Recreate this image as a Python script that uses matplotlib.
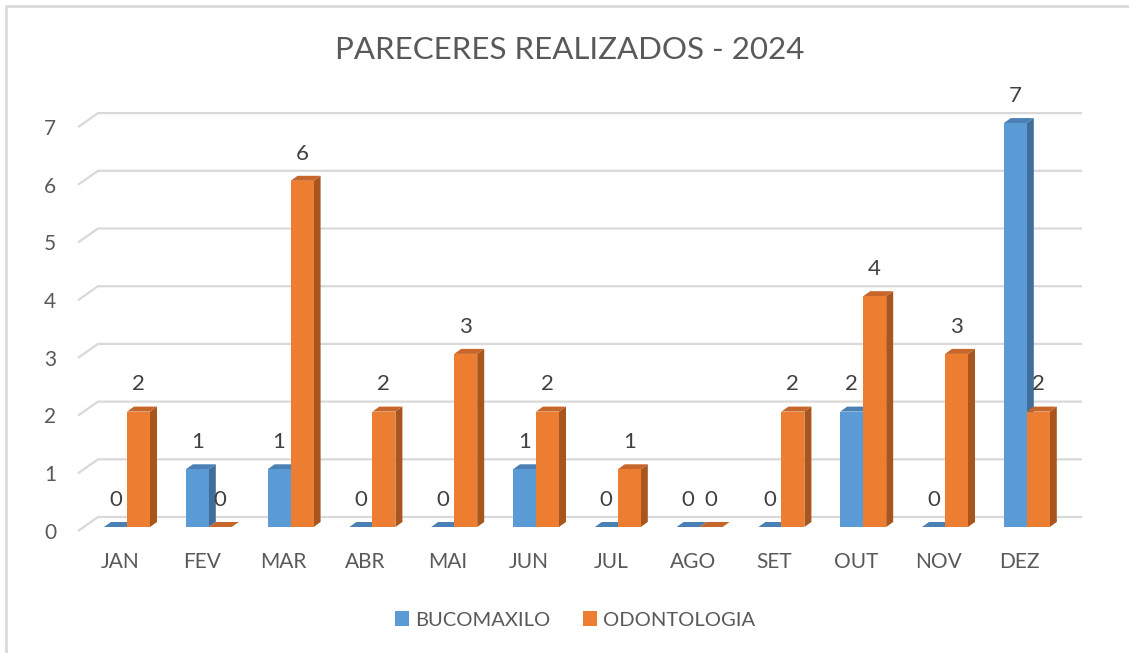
import matplotlib.pyplot as plt
from matplotlib.patches import Polygon, Rectangle
from matplotlib.lines import Line2D

plt.rcParams['font.family'] = ['Lato', 'DejaVu Sans']

months = ['JAN', 'FEV', 'MAR', 'ABR', 'MAI', 'JUN', 'JUL', 'AGO', 'SET', 'OUT', 'NOV', 'DEZ']
bucomaxilo = [0, 1, 1, 0, 0, 1, 0, 0, 0, 2, 0, 7]
odontologia = [2, 0, 6, 2, 3, 2, 1, 0, 2, 4, 3, 2]
yticks = [0, 1, 2, 3, 4, 5, 6, 7]
series = [('BUCOMAXILO', bucomaxilo, '#5B9BD5', '#3F6E9B', '#4A80B4'),
          ('ODONTOLOGIA', odontologia, '#ED7D31', '#A9561E', '#C7662A')]

txt = '#595959'
grid = '#D9D9D9'

W, H = 1129, 653
fig = plt.figure(figsize=(W / 100, H / 100), dpi=100)

# axes placed so that one category = 81.8 px and one unit = 57.7 px
px_x, px_y = 81.8, 57.7
x0_px, y0_px = 127, 527          # pixel of (0, 0) on the front plane
left_px, right_px, top_px, bot_px = 30, 1100, 80, 600
ax = fig.add_axes([left_px / W, 1 - bot_px / H, (right_px - left_px) / W, (bot_px - top_px) / H])
ax.set_xlim((left_px - x0_px) / px_x, (right_px - x0_px) / px_x)
ax.set_ylim((y0_px - bot_px) / px_y, (y0_px - top_px) / px_y)
ax.axis('off')

bw = 23 / px_x                  # bar width
ddx, ddy = 7 / px_x, 5 / px_y   # bar depth
gx0, gx1, gxe = -0.599, -0.355, 11.675
gdy_f, gdy_b = -0.07, 0.173

for v in yticks:
    ax.plot([gx0, gx1, gxe], [v + gdy_f, v + gdy_b, v + gdy_b], color=grid, lw=1.6,
            solid_capstyle='butt', zorder=1)
    ax.text(-0.94, v - 0.1, str(v), ha='center', va='center', fontsize=15,
            color=txt, clip_on=False)

for k, (name, vals, front, side, top) in enumerate(series):
    for i, v in enumerate(vals):
        x = i - bw + k * bw
        z = 3 + k
        ax.add_patch(Polygon([(x + bw, 0), (x + bw + ddx, ddy), (x + bw + ddx, v + ddy), (x + bw, v)],
                             closed=True, facecolor=side, edgecolor='none', zorder=z))
        ax.add_patch(Polygon([(x, v), (x + ddx, v + ddy), (x + bw + ddx, v + ddy), (x + bw, v)],
                             closed=True, facecolor=top, edgecolor='none', zorder=z))
        if v > 0:
            ax.add_patch(Rectangle((x, 0), bw, v, facecolor=front, edgecolor='none', zorder=z))
        ax.text(x + bw / 2, v + 0.47, str(v), ha='center', va='center', fontsize=16,
                color='#404040', zorder=10)

for i, m in enumerate(months):
    ax.text(i - 0.085, -0.607, m, ha='center', va='center', fontsize=15, color=txt)

fig.text(570 / W, 1 - 50 / H, 'PARECERES REALIZADOS - 2024', ha='center', va='center',
         fontsize=22.5, color=txt)

handles = [Rectangle((0, 0), 1, 1, facecolor=s[2], edgecolor='none') for s in series]
fig.legend(handles, [s[0] for s in series], loc='center', bbox_to_anchor=(575 / W, 1 - 620 / H),
           ncol=2, frameon=False, fontsize=14.5, handlelength=0.7, handleheight=0.7,
           handletextpad=0.3, columnspacing=1.6, labelcolor=txt)

# chart border (only left and top edges are inside the picture)
fig.add_artist(Line2D([6 / W, 6 / W, 1], [0, 1 - 6 / H, 1 - 6 / H], color=grid, lw=2,
                      transform=fig.transFigure))

fig.savefig('out.png', dpi=100, facecolor='white')
